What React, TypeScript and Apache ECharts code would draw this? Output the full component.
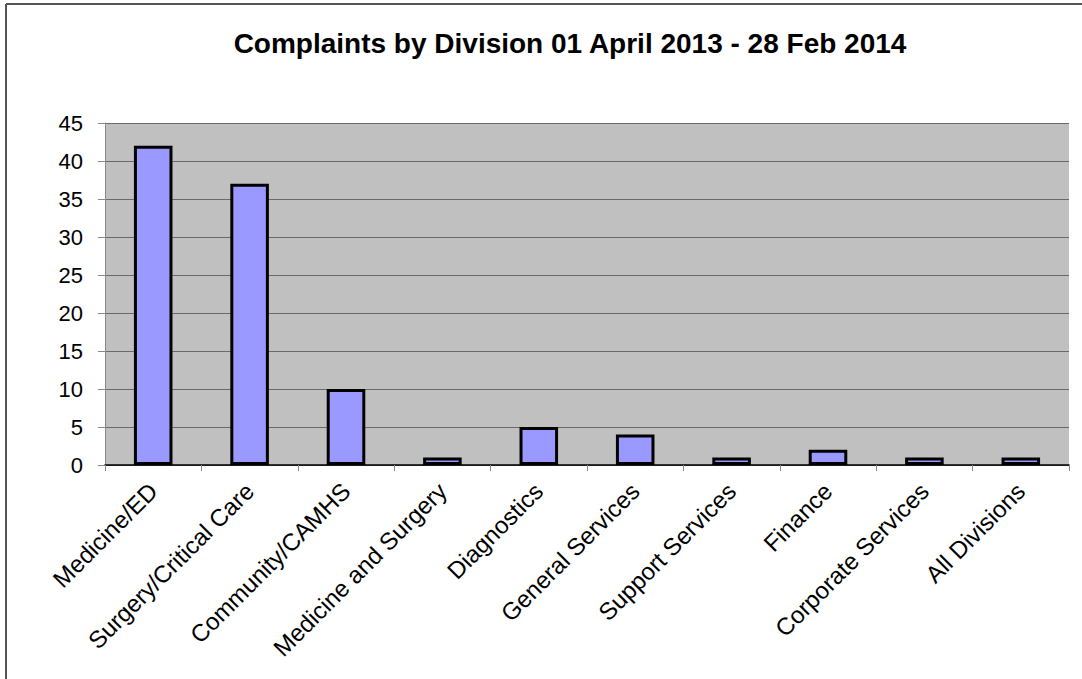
import React, { useEffect, useRef } from "react";
import * as echarts from "echarts";

const categories = [
  "Medicine/ED",
  "Surgery/Critical Care",
  "Community/CAMHS",
  "Medicine and Surgery",
  "Diagnostics",
  "General Services",
  "Support Services",
  "Finance",
  "Corporate Services",
  "All Divisions",
];
const complaints = [42, 37, 10, 1, 5, 4, 1, 2, 1, 1];
const titleText = "Complaints by Division 01 April 2013 - 28 Feb 2014";

export default function App() {
  const ref = useRef<HTMLDivElement>(null);
  useEffect(() => {
    document.body.style.margin = "0";
    const chart = echarts.init(ref.current!, null, { renderer: "svg" });
    const font = "'Liberation Sans', Arial, sans-serif";
    chart.setOption({
      animation: false,
      backgroundColor: "#ffffff",
      title: {
        text: titleText,
        left: 565,
        top: 24,
        textAlign: "center",
        textStyle: { fontFamily: font, fontSize: 28, fontWeight: "bold", color: "#000" },
      },
      graphic: [
        { type: "line", shape: { x1: 6, y1: 4, x2: 1200, y2: 4 }, style: { stroke: "#555", lineWidth: 2 } },
        { type: "line", shape: { x1: 6, y1: 4, x2: 6, y2: 800 }, style: { stroke: "#555", lineWidth: 2 } },
      ],
      grid: {
        left: 105,
        top: 123,
        width: 964,
        height: 342,
        show: true,
        backgroundColor: "#c0c0c0",
        borderWidth: 0,
      },
      xAxis: {
        type: "category",
        data: categories,
        axisLine: { show: true, lineStyle: { color: "#000", width: 1.5 } },
        axisTick: { show: true, length: 6, lineStyle: { color: "#888" } },
        axisLabel: {
          rotate: 45,
          interval: 0,
          margin: 22,
          fontFamily: font,
          fontSize: 24,
          color: "#000",
        },
      },
      yAxis: {
        type: "value",
        min: 0,
        max: 45,
        interval: 5,
        axisLine: { show: true, lineStyle: { color: "#888", width: 1 } },
        axisTick: { show: true, length: 7, lineStyle: { color: "#888" } },
        axisLabel: { margin: 22, fontFamily: font, fontSize: 22, color: "#000" },
        splitLine: { show: true, lineStyle: { color: "#6a6a6a", width: 1 } },
      },
      series: [
        {
          type: "bar",
          data: complaints,
          barWidth: "40%",
          itemStyle: { color: "#9999ff", borderColor: "#000", borderWidth: 3 },
        },
      ],
    });
    return () => chart.dispose();
  }, []);
  return <div ref={ref} style={{ width: 1082, height: 679 }} />;
}
